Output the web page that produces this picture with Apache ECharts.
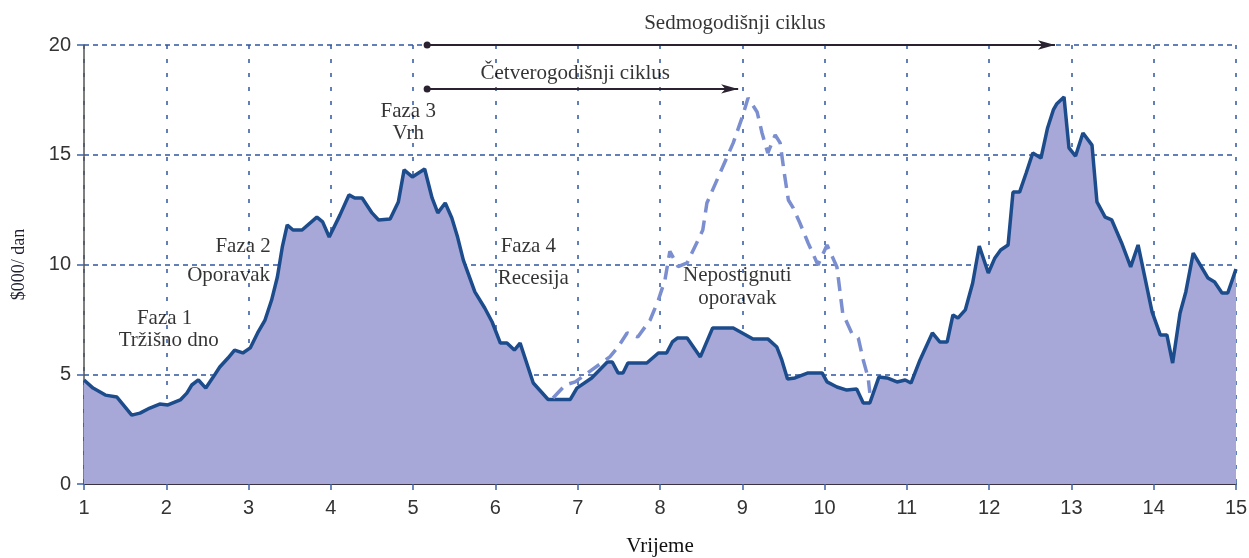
<!DOCTYPE html>
<html><head><meta charset="utf-8">
<script src="https://cdn.jsdelivr.net/npm/echarts@6/dist/echarts.min.js"></script>
<style>html,body{margin:0;padding:0;background:#fff}#c{width:1249px;height:558px}</style>
</head><body><div id="c"></div>
<script>
// Main revenue curve (x = time, y = $000/dan)
const mainX = [1.00,1.11,1.26,1.40,1.58,1.68,1.80,1.92,2.02,2.17,2.25,2.31,2.39,2.48,2.57,2.65,2.75,2.83,2.93,3.02,3.11,3.20,3.28,3.35,3.41,3.47,3.54,3.65,3.83,3.90,3.98,4.11,4.22,4.29,4.38,4.50,4.58,4.72,4.82,4.89,4.99,5.14,5.23,5.30,5.39,5.47,5.54,5.61,5.75,5.87,5.96,6.06,6.14,6.23,6.30,6.46,6.64,6.91,6.99,7.17,7.36,7.42,7.49,7.55,7.61,7.84,7.98,8.08,8.15,8.21,8.33,8.49,8.64,8.89,9.13,9.31,9.42,9.48,9.55,9.64,9.80,9.97,10.03,10.15,10.27,10.39,10.47,10.55,10.66,10.76,10.88,10.98,11.05,11.16,11.31,11.40,11.49,11.56,11.62,11.71,11.80,11.88,11.99,12.07,12.14,12.23,12.29,12.37,12.45,12.53,12.63,12.71,12.78,12.82,12.91,12.97,13.05,13.14,13.25,13.31,13.41,13.49,13.61,13.72,13.81,13.98,14.08,14.16,14.23,14.32,14.39,14.48,14.66,14.74,14.83,14.90,15.00];
const mainY = [4.74,4.37,4.05,3.96,3.14,3.23,3.46,3.64,3.60,3.83,4.14,4.51,4.74,4.37,4.87,5.33,5.74,6.10,5.97,6.20,6.88,7.47,8.38,9.43,10.80,11.80,11.57,11.57,12.16,11.94,11.25,12.25,13.17,13.03,13.03,12.35,12.03,12.07,12.85,14.31,13.99,14.35,13.03,12.35,12.80,12.12,11.25,10.20,8.75,8.02,7.38,6.42,6.42,6.10,6.42,4.60,3.85,3.85,4.37,4.83,5.56,5.56,5.06,5.06,5.51,5.51,5.97,5.97,6.47,6.65,6.65,5.79,7.11,7.11,6.61,6.61,6.24,5.65,4.78,4.83,5.06,5.06,4.65,4.42,4.28,4.33,3.69,3.69,4.87,4.83,4.65,4.74,4.60,5.65,6.88,6.47,6.47,7.70,7.56,7.93,9.16,10.84,9.61,10.30,10.66,10.89,13.30,13.30,14.17,15.08,14.85,16.22,17.04,17.31,17.63,15.31,14.94,15.99,15.44,12.85,12.16,12.03,10.98,9.89,10.89,7.84,6.79,6.79,5.51,7.79,8.75,10.52,9.38,9.20,8.70,8.70,9.79];

// Dashed "expected" recovery curve
const dashX = [6.70,6.85,6.97,7.39,7.49,7.60,7.73,7.88,7.98,8.06,8.12,8.22,8.33,8.52,8.57,8.73,8.89,9.00,9.07,9.18,9.24,9.31,9.40,9.46,9.51,9.56,9.62,9.70,9.80,9.92,10.03,10.15,10.22,10.33,10.41,10.47,10.53,10.55];
const dashY = [3.92,4.51,4.65,5.79,6.24,6.88,6.70,7.47,8.38,9.29,10.60,9.90,10.07,11.57,12.80,14.17,15.54,16.72,17.59,16.95,15.99,15.08,15.90,15.54,14.17,12.94,12.57,11.89,10.98,9.98,10.89,9.89,7.79,6.88,6.65,5.65,4.83,4.15];

// Axis ticks
const xTicks = [1,2,3,4,5,6,7,8,9,10,11,12,13,14,15];
const yTicks = [0,5,10,15,20];

// Annotation texts (placed in data coordinates)
const notes = [
  {t:'Faza 1', x:1.98, y:7.56, a:'center'},
  {t:'Tržišno dno', x:2.03, y:6.56, a:'center'},
  {t:'Faza 2', x:3.27, y:10.84, a:'right'},
  {t:'Oporavak', x:3.26, y:9.52, a:'right'},
  {t:'Faza 3', x:4.94, y:16.95, a:'center'},
  {t:'Vrh', x:4.94, y:15.99, a:'center'},
  {t:'Faza 4', x:6.40, y:10.84, a:'center'},
  {t:'Recesija', x:6.46, y:9.38, a:'center'},
  {t:'Nepostignuti', x:8.94, y:9.52, a:'center'},
  {t:'oporavak', x:8.94, y:8.47, a:'center'},
  {t:'Sedmogodišnji ciklus', x:8.91, y:21.0, a:'center'},
  {t:'Četverogodišnji ciklus', x:6.97, y:18.72, a:'center'}
];
// Cycle arrows: [startX, endX, y]
const cycles = [[5.17, 12.80, 20], [5.17, 8.95, 18]];

const zip = (a,b)=>a.map((v,i)=>[v,b[i]]);
const serif = 'Liberation Serif';
const chart = echarts.init(document.getElementById('c'));
chart.setOption({
  animation:false,
  grid:{left:84, right:13, top:45, bottom:74, containLabel:false, outerBoundsMode:'none'},
  xAxis:{type:'value', min:xTicks[0], max:xTicks[xTicks.length-1], interval:1,
    name:'Vrijeme', nameLocation:'middle', nameGap:52,
    nameTextStyle:{fontFamily:serif, fontSize:21, color:'#111'},
    axisLine:{lineStyle:{color:'#3b3340', width:2}},
    axisTick:{show:true, length:6, lineStyle:{color:'#3d62a8', width:1.5}},
    axisLabel:{fontFamily:'Liberation Sans', fontSize:20, color:'#333', margin:14},
    splitLine:{show:true, lineStyle:{color:'#2f56a0', type:[4,10], width:1.5}}},
  yAxis:{type:'value', min:yTicks[0], max:yTicks[yTicks.length-1], interval:5,
    name:'$000/ dan', nameLocation:'middle', nameGap:56,
    nameTextStyle:{fontFamily:serif, fontSize:18, color:'#1e1e30'},
    axisLine:{show:true, lineStyle:{color:'#555', width:1.5}},
    axisTick:{show:true, length:7, lineStyle:{color:'#3d62a8', width:1.5}},
    axisLabel:{fontFamily:'Liberation Sans', fontSize:20, color:'#333', margin:13},
    splitLine:{show:true, lineStyle:{color:'#2f56a0', type:[5,4], width:1.5}}},
  series:[
    {type:'line', data:zip(mainX, mainY), symbol:'none', z:3,
      lineStyle:{color:'#1d4c8c', width:3.5}, areaStyle:{color:'#a7a8d7', opacity:1}},
    {type:'line', data:zip(dashX, dashY), symbol:'none', z:4,
      lineStyle:{color:'#7b8ecf', width:3.5, type:[14,8]},
      markLine:{silent:true, symbol:['circle','arrow'], symbolSize:[7,17],
        lineStyle:{color:'#2a2230', width:1.8, type:'solid'}, label:{show:false},
        data:cycles.map(c=>[{coord:[c[0],c[2]]},{coord:[c[1],c[2]]}])}},
    {type:'scatter', symbolSize:0, clip:false, z:6, silent:true,
      data:notes.map(n=>({value:[n.x,n.y], name:n.t, label:{align:n.a}})),
      label:{show:true, position:[0,0], verticalAlign:'middle', formatter:'{b}',
        fontFamily:serif, fontSize:21, color:'#000'}}
  ]
});
</script></body></html>
